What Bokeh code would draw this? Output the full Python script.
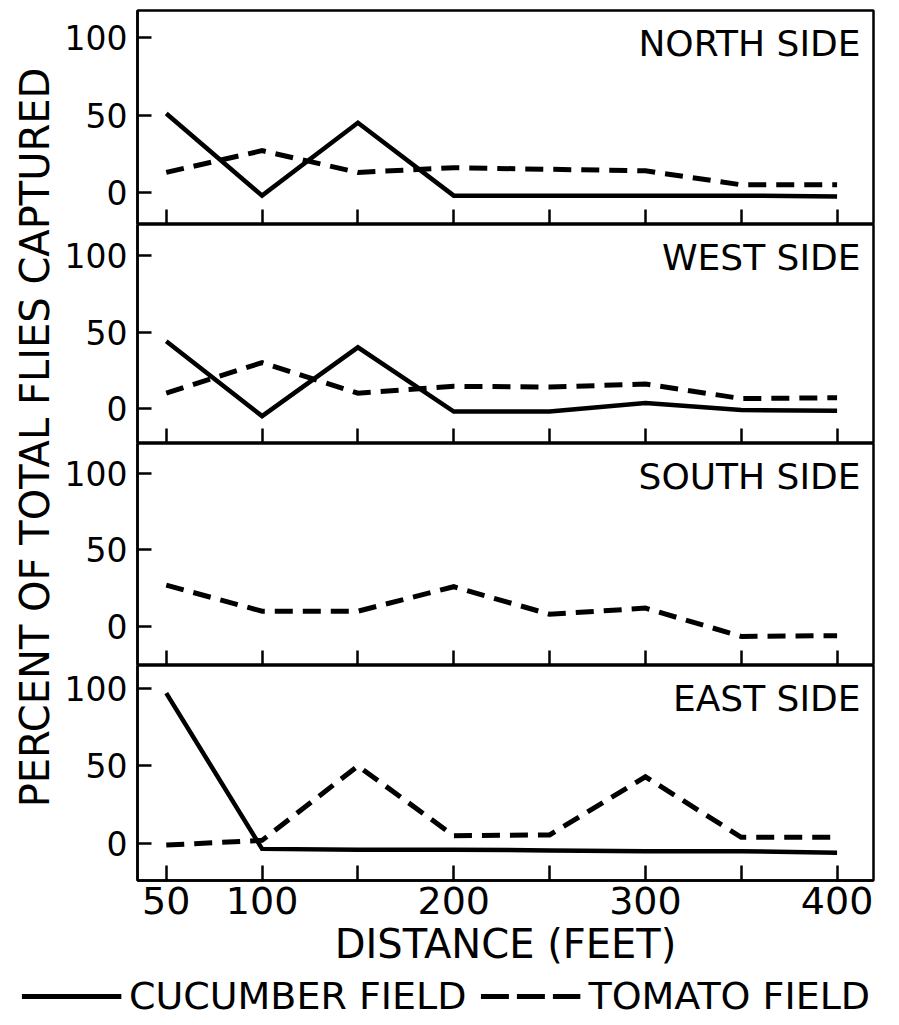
from math import pi
from bokeh.plotting import figure
from bokeh.layouts import column, row
from bokeh.models import Range1d, FixedTicker, Label, Legend, LegendItem
from bokeh.embed import file_html
from bokeh.resources import INLINE

FONT = "DejaVu Sans"

# ---- data ----
distance = [50, 100, 150, 200, 250, 300, 350, 400]
x_major = [50, 100, 200, 300, 400]
x_minor = [150, 250, 350]
y_ticks = [0, 50, 100]
panel_titles = ["NORTH SIDE", "WEST SIDE", "SOUTH SIDE", "EAST SIDE"]

north_cucumber = [51, -2, 45, -2, -2, -2, -2, -2.5]
north_tomato = [13, 27, 13, 16, 15, 14, 5, 5]
west_cucumber = [44, -5, 40, -2, -2, 3.5, -1, -1.5]
west_tomato = [10, 30, 10, 14.5, 14, 16, 6.5, 7]
south_tomato = [27, 10, 10, 26, 8, 12, -6.5, -6]
east_cucumber = [97, -3.5, -4, -4, -4.5, -5, -5, -6]
east_tomato = [-1, 2, 50, 5, 5.5, 43, 4, 4]

cucumber = [north_cucumber, west_cucumber, None, east_cucumber]
tomato = [north_tomato, west_tomato, south_tomato, east_tomato]

y_title = "PERCENT OF TOTAL FLIES CAPTURED"
x_title = "DISTANCE (FEET)"
legend_labels = ["CUCUMBER FIELD", "TOMATO FIELD"]

# ---- layout parameters ----
y_ranges = [(-20.6, 117.4), (-22.9, 120.3), (-25.5, 119.6), (-23.9, 114.8)]
frame_h = [214, 219, 222, 215]
top_b = [10, 0, 0, 0]
bot_b = [0, 0, 0, 90]
heights = [frame_h[i] + top_b[i] + bot_b[i] for i in range(4)]
YFIG_W = 60
PANEL_W = 831
BORDER_L = 137 - YFIG_W

xr = Range1d(35, 419)
LW = 2.5

panels = []
for i in range(4):
    yr = Range1d(*y_ranges[i])
    p = figure(width=PANEL_W, height=heights[i], x_range=xr, y_range=yr,
               output_backend="svg", toolbar_location=None,
               min_border_left=BORDER_L, min_border_right=18,
               min_border_top=top_b[i], min_border_bottom=bot_b[i])
    p.grid.visible = False
    p.outline_line_color = "black"
    p.outline_line_width = LW
    p.background_fill_color = "white"
    p.border_fill_color = "white"

    ya = p.yaxis[0]
    ya.ticker = FixedTicker(ticks=y_ticks)
    ya.major_tick_in = 14
    ya.major_tick_out = 0
    ya.minor_tick_in = 0
    ya.minor_tick_out = 0
    ya.major_tick_line_width = LW
    ya.axis_line_width = LW
    ya.major_label_text_font = FONT
    ya.major_label_text_font_size = "33px"
    ya.major_label_text_color = "black"
    ya.major_label_standoff = 10

    xa = p.xaxis[0]
    if i < 3:
        # ticks only, no labels: all tick marks given as minor ticks
        xa.ticker = FixedTicker(ticks=[], minor_ticks=x_major + x_minor)
        xa.major_label_standoff = 0
    else:
        xa.ticker = FixedTicker(ticks=x_major, minor_ticks=x_minor)
        xa.major_label_text_font = FONT
        xa.major_label_text_font_size = "38px"
        xa.major_label_text_color = "black"
        xa.major_label_standoff = 6
        xa.axis_label = x_title
        xa.axis_label_text_font = FONT
        xa.axis_label_text_font_size = "40px"
        xa.axis_label_text_font_style = "normal"
        xa.axis_label_text_color = "black"
        xa.axis_label_standoff = 4
    xa.major_tick_in = 15
    xa.major_tick_out = 0
    xa.minor_tick_in = 15
    xa.minor_tick_out = 0
    xa.major_tick_line_width = LW
    xa.minor_tick_line_width = LW
    xa.minor_tick_line_color = "black"
    xa.axis_line_width = LW

    if cucumber[i] is not None:
        p.line(distance, cucumber[i], line_width=4.5, line_color="black",
               line_join="miter")
    p.line(distance, tomato[i], line_width=5, line_color="black",
           line_dash="18 10", line_join="miter")

    p.add_layout(Label(x=xr.end, y=yr.end, x_offset=-13, y_offset=-12,
                       text=panel_titles[i], text_align="right",
                       text_baseline="top", text_font=FONT,
                       text_font_size="36px", text_color="black"))
    panels.append(p)

total_h = sum(heights)
yfig = figure(width=YFIG_W, height=total_h, x_range=Range1d(0, 1),
              y_range=Range1d(0, 1), x_axis_location=None,
              y_axis_location=None, min_border=0, output_backend="svg",
              toolbar_location=None, outline_line_color=None)
yfig.grid.visible = False
frac = (total_h - 437) / total_h
yfig.add_layout(Label(x=34 / YFIG_W, y=frac, angle=pi / 2, text=y_title,
                      text_align="center", text_baseline="middle",
                      text_font=FONT, text_font_size="40px",
                      text_color="black"))

LEG_H = 1022 - total_h
lf = figure(width=YFIG_W + PANEL_W, height=LEG_H, x_range=Range1d(0, 1),
            y_range=Range1d(0, 1), x_axis_location=None, y_axis_location=None,
            min_border=0, output_backend="svg", toolbar_location=None,
            outline_line_color=None)
lf.grid.visible = False
r1 = lf.line(x=[float("nan")], y=[float("nan")], line_width=5,
             line_color="black")
r2 = lf.line(x=[float("nan")], y=[float("nan")], line_width=5,
             line_color="black", line_dash="28 8")
legend = Legend(items=[LegendItem(label=legend_labels[0], renderers=[r1]),
                       LegendItem(label=legend_labels[1], renderers=[r2])],
                orientation="horizontal", location="center",
                glyph_width=100, glyph_height=30,
                label_text_font=FONT, label_text_font_size="38px",
                label_text_color="black", label_standoff=8, spacing=14,
                border_line_color=None, background_fill_alpha=0,
                padding=0, margin=0)
lf.add_layout(legend, "center")

layout = column(row(yfig, column(*panels)), lf)
open("out.html", "w").write(file_html(layout, INLINE))
